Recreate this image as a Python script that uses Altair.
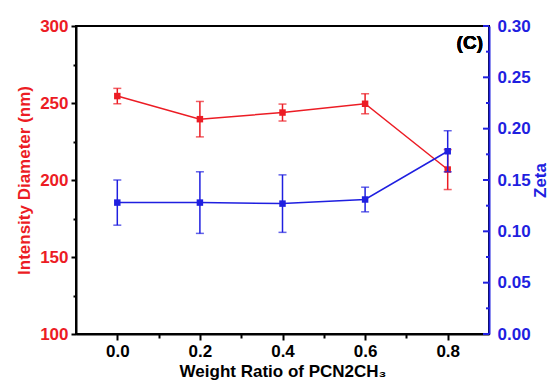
import altair as alt
import pandas as pd

# ---- data ----
ratio = [0.0, 0.2, 0.4, 0.6, 0.8]
diameter = [254.5, 239.5, 243.8, 249.5, 206.8]
diameter_err = [5.0, 11.5, 5.5, 6.5, 13.0]
zeta = [0.128, 0.128, 0.127, 0.131, 0.178]
zeta_err = [0.022, 0.030, 0.028, 0.012, 0.020]

x_tick_values = [0.0, 0.1, 0.2, 0.3, 0.4, 0.5, 0.6, 0.7, 0.8]
left_tick_values = [100, 125, 150, 175, 200, 225, 250, 275, 300]
right_major_ticks = [0.0, 0.05, 0.10, 0.15, 0.20, 0.25, 0.30]
right_minor_ticks = [0.025, 0.075, 0.125, 0.175, 0.225, 0.275]
panel_label = "(C)"

RED = "#ec1c24"
BLUE = "#1f1fe0"
FONT = "Liberation Sans"
W, H = 413, 308

df = pd.DataFrame({
    "ratio": ratio,
    "d": diameter,
    "d_lo": [v - e for v, e in zip(diameter, diameter_err)],
    "d_hi": [v + e for v, e in zip(diameter, diameter_err)],
    "z": zeta,
    "z_lo": [v - e for v, e in zip(zeta, zeta_err)],
    "z_hi": [v + e for v, e in zip(zeta, zeta_err)],
})
df_rmaj = pd.DataFrame({"v": right_major_ticks})
df_rmin = pd.DataFrame({"v": right_minor_ticks})

common = dict(labelFont=FONT, titleFont=FONT, labelFontSize=17, titleFontSize=17,
              labelFontWeight="bold", titleFontWeight="bold", grid=False,
              domainWidth=2, tickWidth=2)

x_axis = alt.Axis(
    values=x_tick_values, format=".1f",
    labelExpr="abs(datum.value*5 - round(datum.value*5)) < 0.01 ? datum.label : ''",
    tickSize={"condition": {"test": "abs(datum.value*5 - round(datum.value*5)) < 0.01", "value": 6}, "value": 4},
    title="Weight Ratio of PCN2CH₃", titlePadding=4,
    labelPadding=3, labelColor="black", titleColor="black",
    domainColor="black", tickColor="black", **common,
)
x_scale = alt.Scale(domain=[-0.1, 0.9], nice=False, zero=False)

def X(field):
    return alt.X(field, type="quantitative", scale=x_scale, axis=x_axis)

left_axis = alt.Axis(
    orient="left", values=left_tick_values, format="d",
    labelExpr="datum.value % 50 === 0 ? datum.label : ''",
    tickSize={"condition": {"test": "datum.value % 50 === 0", "value": 5}, "value": 3},
    labelColor=RED, titleColor=RED, title="Intensity Diameter (nm)",
    domainColor="black", tickColor="black",
    labelPadding=3, titlePadding=6, **common,
)
left_scale = alt.Scale(domain=[100, 300], nice=False, zero=False)

def YL(field):
    return alt.Y(field, type="quantitative", scale=left_scale, axis=left_axis)

right_axis = alt.Axis(
    orient="right", values=right_major_ticks, format=".2f",
    ticks=False, labelColor=BLUE, titleColor=BLUE, domainColor=BLUE,
    title="Zeta", titleAngle=270, titleBaseline="top",
    labelPadding=8, titlePadding=2, **common,
)
right_scale = alt.Scale(domain=[0, 0.3], nice=False, zero=False)

def YR(field):
    return alt.Y(field, type="quantitative", scale=right_scale, axis=right_axis)

base = alt.Chart(df)

red_line = base.mark_line(color=RED, strokeWidth=1.5).encode(x=X("ratio"), y=YL("d"))
red_err = base.mark_rule(color=RED, strokeWidth=1.5).encode(x=X("ratio"), y=YL("d_lo"), y2="d_hi")
red_cap_lo = base.mark_tick(color=RED, orient="horizontal", size=8, thickness=1.5).encode(x=X("ratio"), y=YL("d_lo"))
red_cap_hi = base.mark_tick(color=RED, orient="horizontal", size=8, thickness=1.5).encode(x=X("ratio"), y=YL("d_hi"))
red_pts = base.mark_square(color=RED, size=42, opacity=1).encode(x=X("ratio"), y=YL("d"))
label = alt.Chart(df).mark_text(
    text=panel_label, font=FONT, fontWeight="bold", fontSize=19, color="black", align="right", baseline="middle"
).encode(x=alt.value(W - 6), y=alt.value(17))

red_layer = alt.layer(red_line, red_err, red_cap_lo, red_cap_hi, red_pts, label)

blue_line = base.mark_line(color=BLUE, strokeWidth=1.5).encode(x=X("ratio"), y=YR("z"))
blue_err = base.mark_rule(color=BLUE, strokeWidth=1.5).encode(x=X("ratio"), y=YR("z_lo"), y2="z_hi")
blue_cap_lo = base.mark_tick(color=BLUE, orient="horizontal", size=8, thickness=1.5).encode(x=X("ratio"), y=YR("z_lo"))
blue_cap_hi = base.mark_tick(color=BLUE, orient="horizontal", size=8, thickness=1.5).encode(x=X("ratio"), y=YR("z_hi"))
blue_pts = base.mark_square(color=BLUE, size=42, opacity=1).encode(x=X("ratio"), y=YR("z"))
blue_maj = alt.Chart(df_rmaj).mark_rule(color=BLUE, strokeWidth=2).encode(
    x=alt.value(W - 6), x2=alt.value(W), y=YR("v"))
blue_min = alt.Chart(df_rmin).mark_rule(color=BLUE, strokeWidth=2).encode(
    x=alt.value(W - 3), x2=alt.value(W), y=YR("v"))

blue_layer = alt.layer(blue_line, blue_err, blue_cap_lo, blue_cap_hi, blue_pts, blue_maj, blue_min)

chart = alt.layer(red_layer, blue_layer).resolve_scale(y="independent").properties(
    width=W, height=H,
    autosize=alt.AutoSizeParams(type="none"),
    padding={"left": 68, "top": 18, "right": 60, "bottom": 46},
).configure(background="white").configure_view(
    stroke="black", strokeWidth=2
)

chart.save("out.html", embed_options={"renderer": "svg", "actions": False})
